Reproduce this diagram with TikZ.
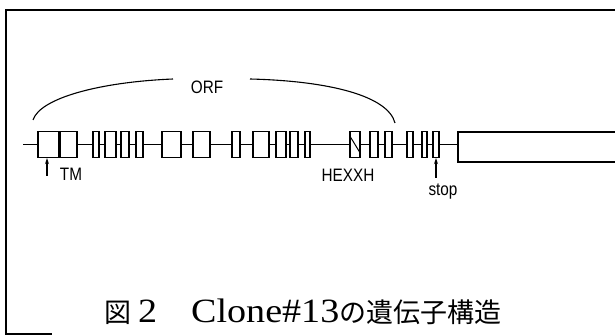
\documentclass[tikz,border=0pt]{standalone}
\usepackage{fontspec}
\setmainfont{Liberation Serif}
\newfontfamily\cjk{Noto Sans CJK JP}
\newfontfamily\titlelat{Liberation Serif}[FakeStretch=1.12]
\newfontfamily\lab{Liberation Sans}
\usetikzlibrary{arrows.meta}
\begin{document}
\begin{tikzpicture}[x=1pt,y=-1pt,
  exon/.style={draw, fill=white, line width=1.3pt, minimum height=26pt, inner sep=0pt, anchor=center},
  gene/.style={line width=1.3pt},
  frame/.style={line width=1.6pt},
  lbl/.style={font=\lab\fontsize{18}{18}\selectfont, inner sep=0pt, xscale=0.85, transform shape},
  arr/.style={line width=1.1pt, -{Stealth[length=6pt,width=4pt]}},
  orfline/.style={line width=1.1pt}
]
\useasboundingbox (0,0) rectangle (615,336);
% frame
\draw[frame] (615,10) -- (6,10) -- (6,334) -- (52,334);
% exons
\foreach \l/\r [count=\i] in {38/59,60/77,93/99,105/116,121/129,136/143,162/181,193/210,232/240,253/269,276/286,290/298,305/310,350/360,370/378,385/392,407/413,422/427,433/439}{
  \pgfmathsetmacro{\w}{\r-\l}
  \pgfmathsetmacro{\c}{(\l+\r)/2}
  \node[exon, minimum width=\w pt] (e\i) at (\c,144.5) {};
}
% start and UTR
\coordinate (start) at (23,144.5);
\coordinate (utr) at (458,144.5);
\draw[gene] (start) -- (e1.west);
\foreach \i [evaluate=\i as \j using int(\i+1)] in {1,...,18}{
  \draw[gene] (e\i.east) -- (e\j.west);
}
\draw[gene] (e19.east) -- (utr);
\draw[gene] (620,132) -| (utr) |- (620,162);
% hatch
\draw[line width=1pt] ([xshift=1pt,yshift=-6pt]e14.north west) -- ([xshift=-1pt,yshift=6pt]e14.south east);
% ORF bracket
\node[lbl] (orf) at (207,87) {ORF};
\coordinate (orfL) at (33,120);
\coordinate (orfA) at (173,79);
\coordinate (orfB) at (250,79);
\coordinate (orfR) at (395,123);
\draw[orfline] (orfL) .. controls (40,98) and (100,82) .. (orfA);
\draw[orfline] (orfB) .. controls (330,81) and (388,96) .. (orfR);
% TM
\coordinate (tmtail) at (47,176);
\draw[arr] (tmtail) -- (e1.south -| tmtail);
\node[lbl] (tm) at (71,174) {TM};
% HEXXH
\node[lbl] (hexxh) at (348,175) {HEXXH};
% stop
\coordinate (stoptail) at (436,178);
\draw[arr] (stoptail) -- (e19.south);
\node[lbl] (stop) at (443,192) {stop};
% title
\node[anchor=base west, inner sep=0pt] (title) at (104,323) {{\cjk\fontsize{27}{27}\selectfont 図}\hspace{7pt}{\titlelat\fontsize{34}{34}\selectfont 2\hspace{34pt}Clone\#13}{\cjk\fontsize{27}{27}\selectfont の遺伝子構造}};
\end{tikzpicture}
\end{document}
